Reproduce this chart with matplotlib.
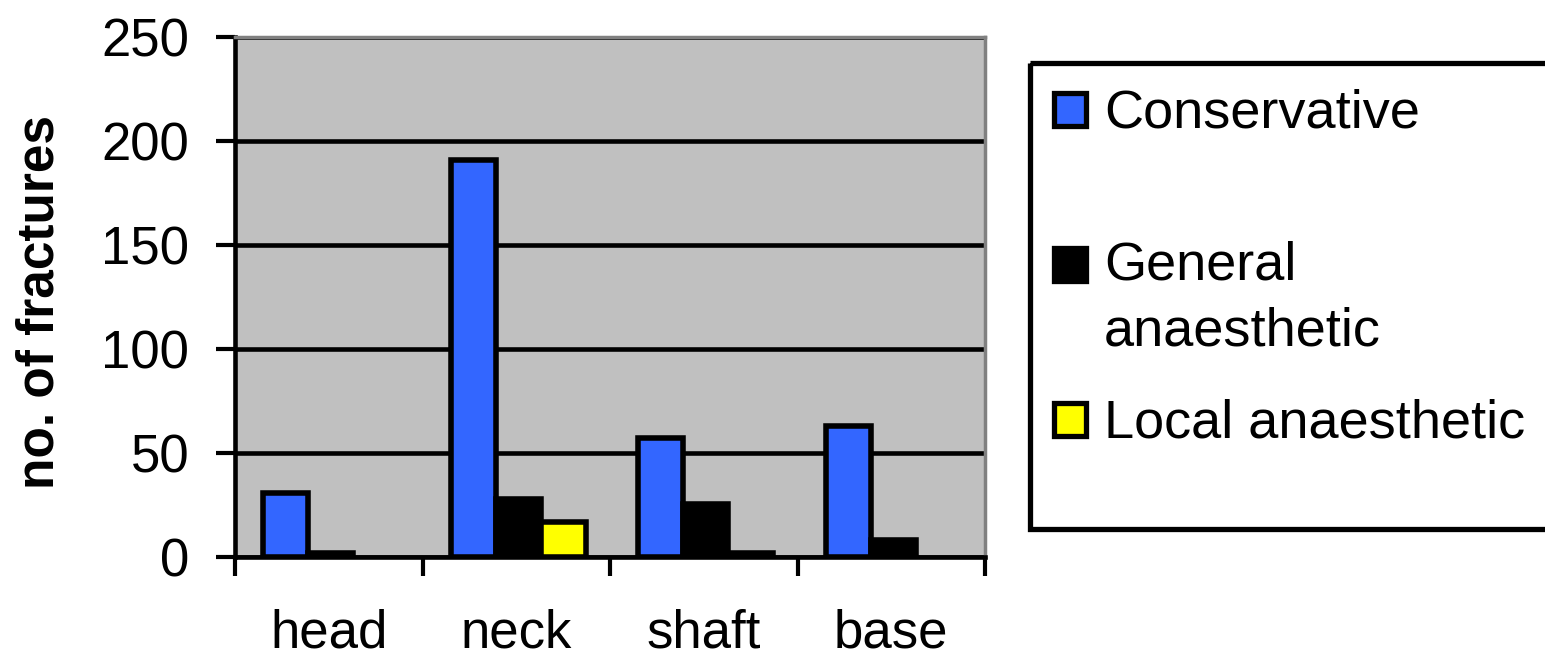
import numpy as np
import matplotlib.pyplot as plt
from matplotlib.patches import Rectangle

plt.rcParams['font.family'] = ['Liberation Sans', 'DejaVu Sans']

# fracture site and counts per treatment
sites = ['head', 'neck', 'shaft', 'base']
conservative = [31, 191, 57, 63]
general = [2, 28, 25.5, 8]
local = [0, 17, 2, 0]

series_names = ['Conservative', 'General\nanaesthetic', 'Local anaesthetic']
series_colors = ['#3366FF', '#000000', '#FFFF00']
series_values = [conservative, general, local]

W, H = 1545, 659
fig = plt.figure(figsize=(W / 100, H / 100), dpi=100)
ax = fig.add_axes([235 / W, (H - 557) / H, 750 / W, 520 / H])
ax.set_facecolor('#C0C0C0')

x = np.arange(len(sites))
bw = 0.24
for i, (vals, col) in enumerate(zip(series_values, series_colors)):
    # empty bars get no outline
    lws = [4 if v > 0 else 0 for v in vals]
    ax.bar(x + (i - 1) * bw + 0.01, vals, bw, color=col, edgecolor='black',
           linewidth=lws, zorder=3)

ax.set_xlim(-0.5, len(sites) - 0.5)
ax.set_ylim(0, 250)
ax.set_yticks(np.arange(0, 251, 50))
ax.yaxis.grid(True, color='black', linewidth=3.3, zorder=1)
ax.set_axisbelow(True)

# category boundaries get tick marks, labels sit in between
ax.set_xticks(np.arange(-0.5, len(sites), 1.0))
ax.set_xticklabels([])
ax.set_xticks(x, minor=True)
ax.set_xticklabels(sites, minor=True, fontsize=38)
ax.tick_params(axis='x', which='major', direction='out', length=14, width=3)
ax.tick_params(axis='x', which='minor', length=0, pad=37)
ax.tick_params(axis='y', direction='out', length=14, width=3, pad=19,
               labelsize=38)

for side in ['left', 'bottom']:
    ax.spines[side].set_linewidth(3.3)
    ax.spines[side].set_color('black')
for side in ['top', 'right']:
    ax.spines[side].set_linewidth(2.5)
    ax.spines[side].set_color('#808080')

fig.text(40 / W, (H - 302) / H, 'no. of fractures', rotation=90,
         fontsize=37, fontweight='bold', ha='center', va='center')

# legend panel
lg = fig.add_axes([0, 0, 1, 1], facecolor='none')
lg.set_xlim(0, W)
lg.set_ylim(H, 0)
lg.axis('off')
lg.add_patch(Rectangle((1030, 63), 540, 466, fill=False, edgecolor='black',
                       linewidth=3.8, clip_on=False))
marker_tops = [92, 247, 402]
text_baselines = [127, 280, 437]
for name, col, mt, tb in zip(series_names, series_colors, marker_tops,
                             text_baselines):
    lg.add_patch(Rectangle((1054, mt + 1), 32, 33, facecolor=col,
                           edgecolor='black', linewidth=3.8))
    for k, line in enumerate(name.split('\n')):
        lg.text(1104, tb + k * 65, line, fontsize=39, ha='left',
                va='baseline')

fig.savefig('out.png', dpi=100)
